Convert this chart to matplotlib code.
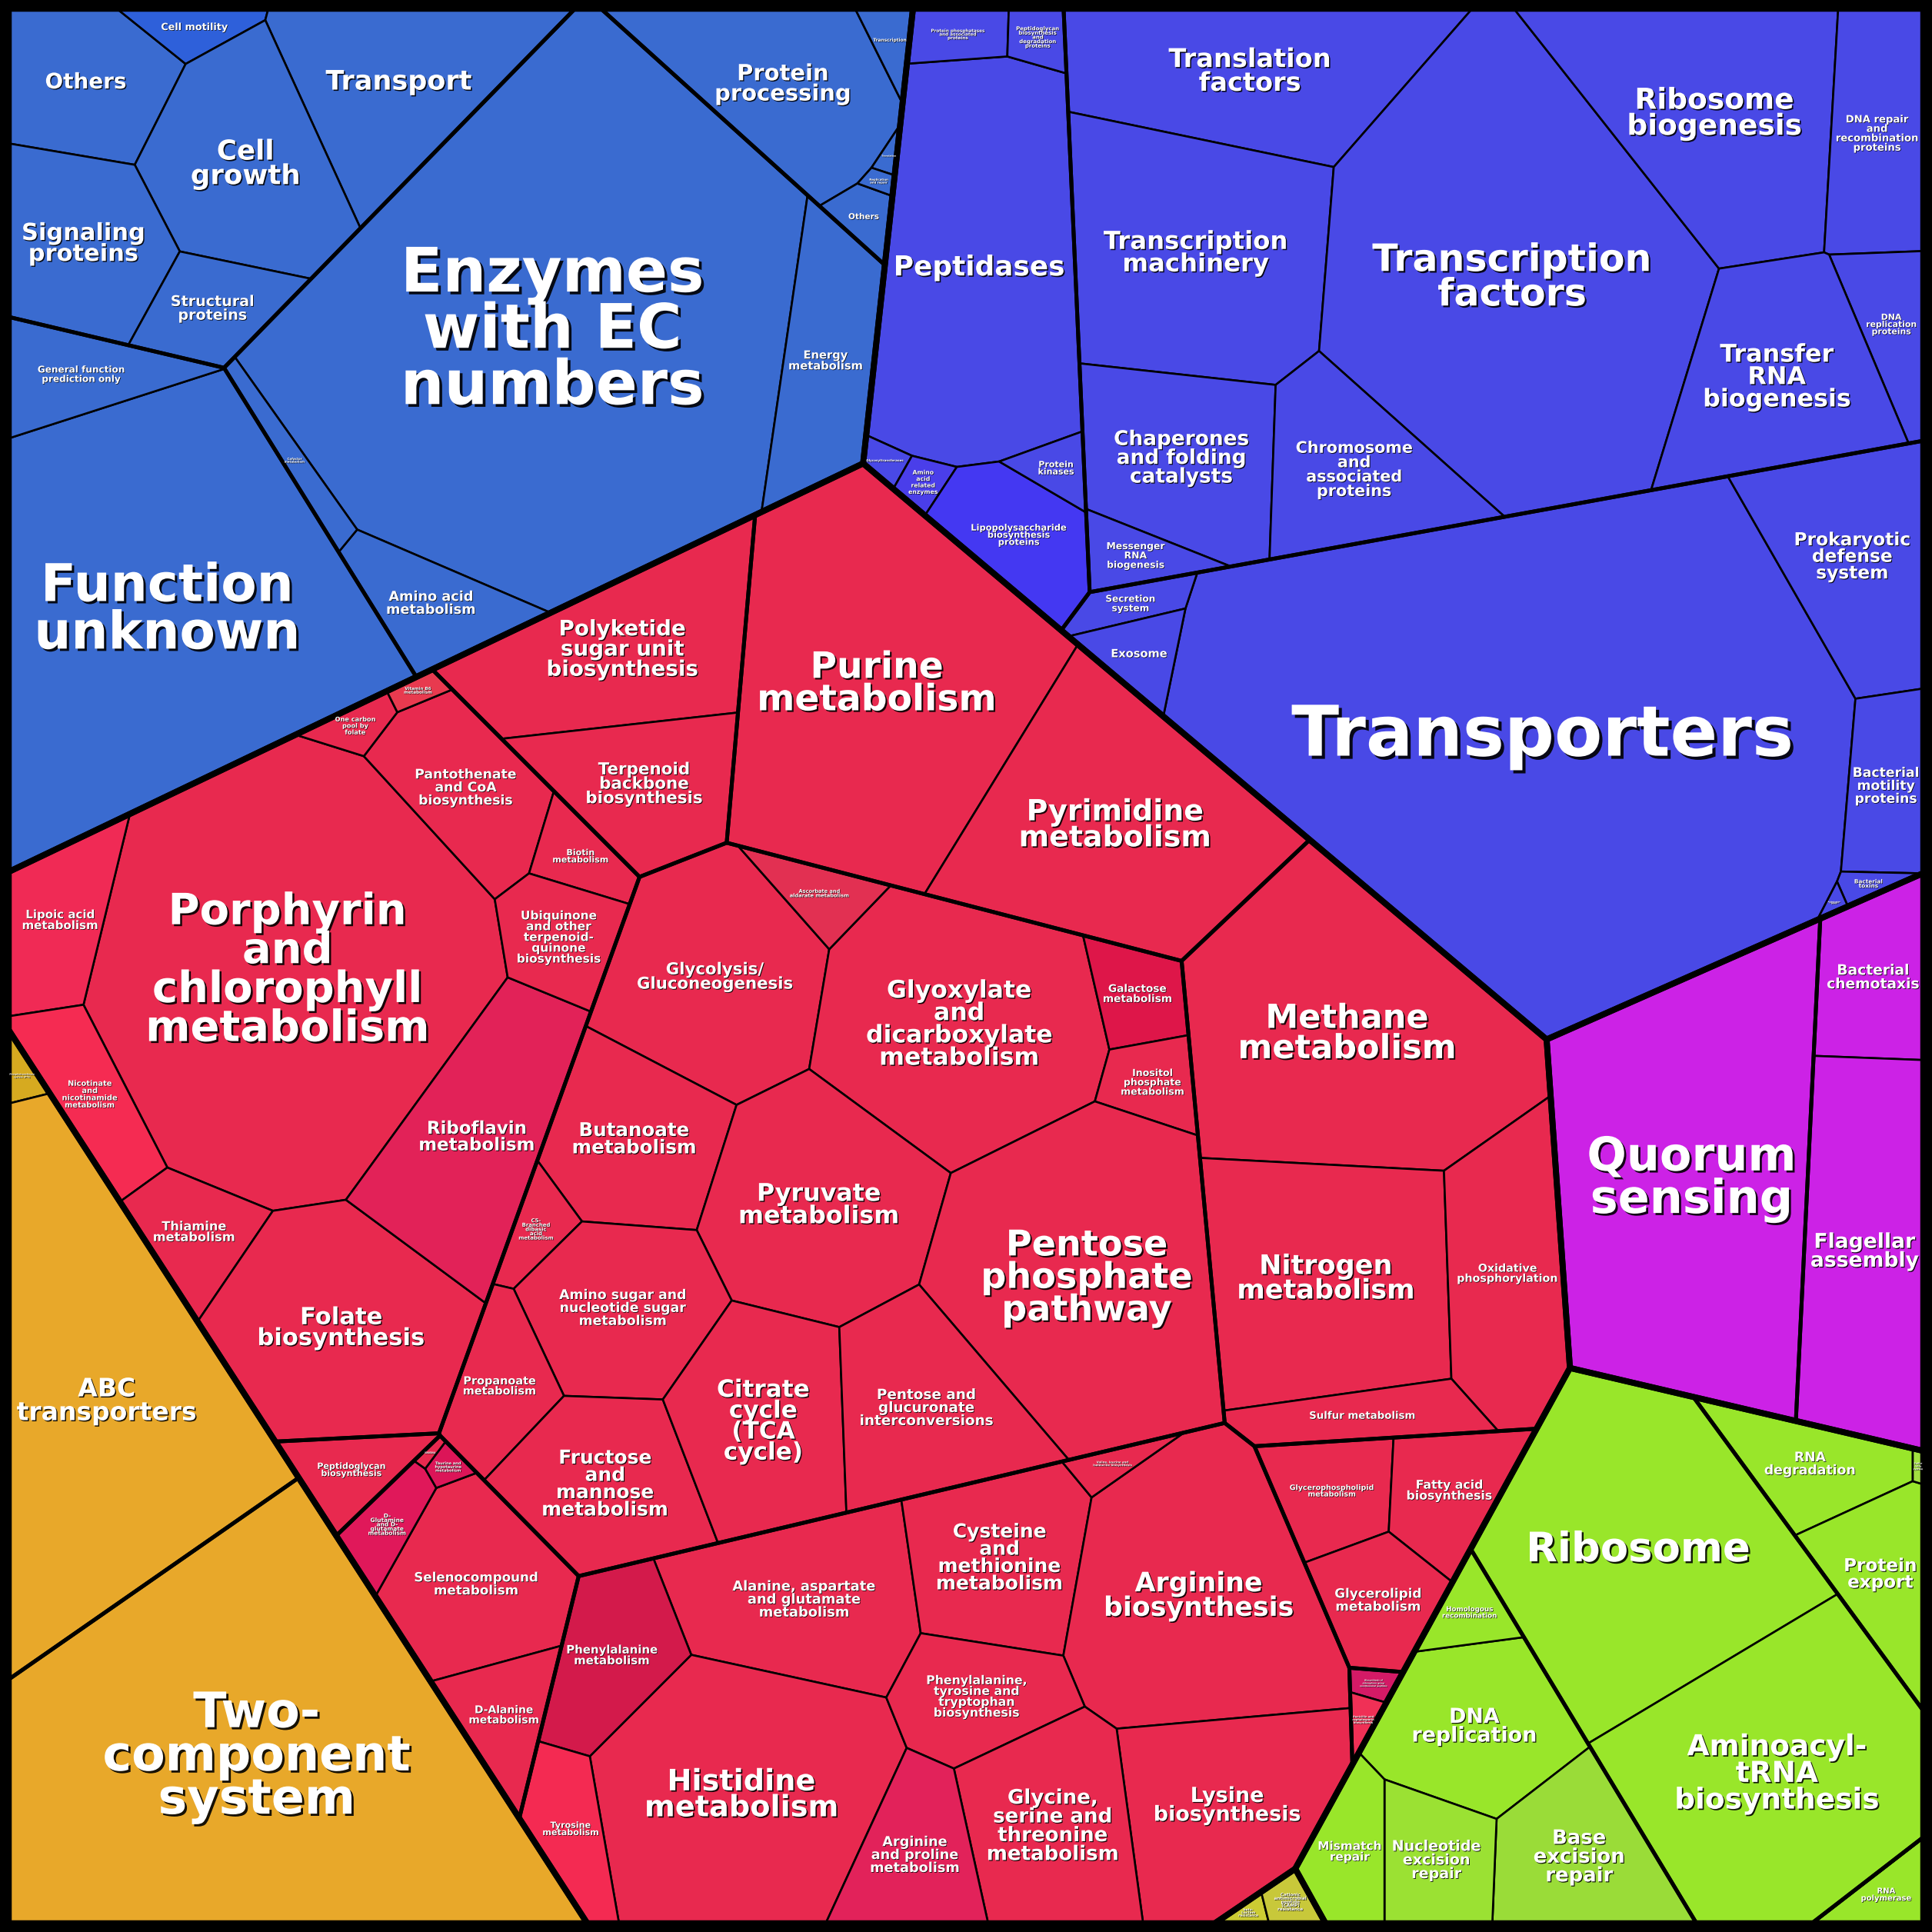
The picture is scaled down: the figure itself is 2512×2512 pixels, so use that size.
import numpy as np
import matplotlib
matplotlib.use("Agg")
import matplotlib.pyplot as plt
from matplotlib.patches import Polygon
import matplotlib.patheffects as pe

# =====================================================================
# DATA  (values = relative sizes)
# =====================================================================
GROUP_NAMES = ["Not Included in Pathway or Brite", "Brite Hierarchies", "Metabolism",
               "Cellular Processes", "Genetic Information Processing",
               "Environmental Information Processing", "Human Diseases"]

# --- Not Included in Pathway or Brite
A_SUB = (["Poorly characterized"] * 2 + ["Unclassified: signaling and cellular processes"] * 6 +
         ["Unclassified: metabolism"] * 4 + ["Unclassified: genetic information processing"] * 5)
A_LABEL = ["Function\nunknown", "General function\nprediction only",
           "Others", "Cell motility", "Transport", "Cell\ngrowth", "Signaling\nproteins",
           "Structural\nproteins",
           "Enzymes\nwith EC\nnumbers", "Energy\nmetabolism", "Amino acid\nmetabolism",
           "Cofactor\nmetabolism",
           "Protein\nprocessing", "Transcription", "Others", "Translation",
           "Replication\nand repair"]
A_VALUE = [84150, 8645, 14300, 3000, 22660, 23420, 17150, 7940,
           141665, 15338, 9060, 3000, 21550, 1800, 2040, 400, 400]

# --- Brite Hierarchies (protein families)
B_SUB = (["Protein families: metabolism"] * 7 +
         ["Protein families: genetic information processing"] * 10 +
         ["Protein families: signaling and cellular processes"] * 7)
B_LABEL = ["Peptidases", "Protein phosphatases\nand associated\nproteins",
           "Peptidoglycan\nbiosynthesis\nand\ndegradation\nproteins", "Glycosyltransferases",
           "Amino\nacid\nrelated\nenzymes", "Lipopolysaccharide\nbiosynthesis\nproteins",
           "Protein\nkinases",
           "Translation\nfactors", "Transcription\nmachinery", "Transcription\nfactors",
           "Ribosome\nbiogenesis", "DNA repair\nand\nrecombination\nproteins",
           "DNA\nreplication\nproteins", "Transfer\nRNA\nbiogenesis",
           "Chaperones\nand folding\ncatalysts", "Chromosome\nand\nassociated\nproteins",
           "Messenger\nRNA\nbiogenesis",
           "Transporters", "Secretion\nsystem", "Exosome", "Prokaryotic\ndefense\nsystem",
           "Bacterial\nmotility\nproteins", "Bacterial\ntoxins",
           "Antimicrobial\nresistance\ngenes"]
B_VALUE = [48345, 3300, 2100, 926, 1333, 10370, 2244,
           30112, 38570, 88637, 35937, 14760, 6832, 24937, 20993, 17795, 3890,
           170096, 2838, 3940, 21273, 8800, 1000, 300]

# --- Metabolism
C_SUB = (["Nucleotide metabolism"] * 2 + ["Terpenoids and polyketides"] * 2 +
         ["Cofactors and vitamins"] * 11 + ["Carbohydrate metabolism"] * 14 +
         ["Energy metabolism"] * 4 + ["Lipid metabolism"] * 3 +
         ["Other secondary metabolites"] * 2 + ["Amino acid metabolism"] * 11 +
         ["Other amino acids"] * 5 + ["Glycan biosynthesis"] * 1)
C_LABEL = ["Purine\nmetabolism", "Pyrimidine\nmetabolism",
           "Polyketide\nsugar unit\nbiosynthesis", "Terpenoid\nbackbone\nbiosynthesis",
           "Porphyrin\nand\nchlorophyll\nmetabolism", "Lipoic acid\nmetabolism",
           "Nicotinate\nand\nnicotinamide\nmetabolism", "Thiamine\nmetabolism",
           "Folate\nbiosynthesis", "Riboflavin\nmetabolism",
           "Pantothenate\nand CoA\nbiosynthesis", "Biotin\nmetabolism",
           "Ubiquinone\nand other\nterpenoid-\nquinone\nbiosynthesis",
           "One carbon\npool by\nfolate", "Vitamin B6\nmetabolism",
           "Glycolysis/\nGluconeogenesis", "Glyoxylate\nand\ndicarboxylate\nmetabolism",
           "Ascorbate and\naldarate metabolism", "Galactose\nmetabolism",
           "Inositol\nphosphate\nmetabolism", "Butanoate\nmetabolism",
           "C5-\nBranched\ndibasic\nacid\nmetabolism", "Pyruvate\nmetabolism",
           "Pentose\nphosphate\npathway", "Amino sugar and\nnucleotide sugar\nmetabolism",
           "Propanoate\nmetabolism", "Fructose\nand\nmannose\nmetabolism",
           "Citrate\ncycle\n(TCA\ncycle)", "Pentose and\nglucuronate\ninterconversions",
           "Methane\nmetabolism", "Nitrogen\nmetabolism", "Oxidative\nphosphorylation",
           "Sulfur metabolism",
           "Glycerophospholipid\nmetabolism", "Fatty acid\nbiosynthesis",
           "Glycerolipid\nmetabolism",
           "Biosynthesis of\nsiderophore group\nnonribosomal peptides",
           "Penicillin and\ncephalosporin\nbiosynthesis",
           "Alanine, aspartate\nand glutamate\nmetabolism",
           "Cysteine\nand\nmethionine\nmetabolism", "Arginine\nbiosynthesis",
           "Histidine\nmetabolism",
           "Phenylalanine,\ntyrosine and\ntryptophan\nbiosynthesis",
           "Lysine\nbiosynthesis", "Glycine,\nserine and\nthreonine\nmetabolism",
           "Arginine\nand proline\nmetabolism", "Phenylalanine\nmetabolism",
           "Tyrosine\nmetabolism", "Valine, leucine and\nisoleucine biosynthesis",
           "Selenocompound\nmetabolism", "D-Alanine\nmetabolism",
           "D-\nGlutamine\nand D-\nglutamate\nmetabolism",
           "Taurine and\nhypotaurine\nmetabolism", "Glutathione\nmetabolism",
           "Peptidoglycan\nbiosynthesis"]
C_VALUE = [64715, 41775,
           26000, 15500,
           91000, 10250, 8940, 7640, 31651, 24830, 13825, 4000, 8000, 2000, 900,
           27717, 39538, 4000, 5420, 4550, 17507, 3272, 29212, 51007, 18387, 8610,
           18112, 21587, 20325,
           53878, 35713, 21034, 7500,
           8000, 9000, 8500,
           850, 850,
           23340, 18198, 40767, 42517, 11572, 24525, 20180, 11508, 11940, 6955, 1715,
           17513, 6921, 3882, 800, 250,
           5327]

# --- Cellular Processes
D_SUB = ["Cellular community"] + ["Cell motility"] * 2
D_LABEL = ["Quorum\nsensing", "Bacterial\nchemotaxis", "Flagellar\nassembly"]
D_VALUE = [67989, 11266, 29491]

# --- Genetic Information Processing
E_SUB = (["Translation"] * 2 + ["Folding, sorting and degradation"] * 3 +
         ["Transcription"] + ["Replication and repair"] * 5)
E_LABEL = ["Ribosome", "Aminoacyl-\ntRNA\nbiosynthesis",
           "RNA\ndegradation", "Protein\nexport", "Sulfur\nrelay\nsystem",
           "RNA\npolymerase",
           "DNA\nreplication", "Homologous\nrecombination", "Base\nexcision\nrepair",
           "Nucleotide\nexcision\nrepair", "Mismatch\nrepair"]
E_VALUE = [51570, 47257, 9513, 9850, 230, 3150, 17725, 3427, 14925, 8977, 6784]

# --- Environmental Information Processing
F_SUB = ["Membrane transport"] * 2 + ["Signal transduction"]
F_LABEL = ["Phosphotransferase\nsystem (PTS)", "ABC\ntransporters", "Two-\ncomponent\nsystem"]
F_VALUE = [990, 60699, 107744]

# --- Human Diseases
G_SUB = ["Drug resistance"] * 2
G_LABEL = ["beta-\nLactam\nresistance", "Cationic\nantimicrobial\npeptide\n(CAMP)\nresistance"]
G_VALUE = [560, 1420]

# =====================================================================
# LAYOUT HINTS: generator sites (canvas units, 0..1568, y down)
# =====================================================================
A_SITE = [(120, 480), (62, 300), (95, 72), (140, 16), (329, 66), (200, 125), (75, 190),
          (175, 245), (452, 268), (672, 300), (360, 482), (263, 402), (640, 72),
          (724, 30), (705, 182), (724, 128), (727, 150)]
B_SITE = [(798, 205), (785, 25), (849, 27), (722, 373), (752, 390), (828, 440), (862, 382),
          (1010, 52), (975, 220), (1225, 240), (1405, 98), (1526, 105), (1532, 265),
          (1437, 305), (958, 375), (1100, 380), (925, 458),
          (1235, 600), (918, 495), (928, 537), (1505, 445), (1532, 625), (1530, 715),
          (1491, 732)]
C_SITE = [(705, 555), (905, 678),
          (515, 540), (527, 648),
          (225, 790), (40, 745), (60, 875), (143, 990), (268, 1075), (390, 910), (378, 650),
          (477, 680), (455, 752), (290, 583), (340, 558),
          (578, 805), (775, 838), (663, 730), (918, 805), (932, 882), (510, 935), (428, 995),
          (667, 985), (878, 1045), (500, 1068), (400, 1115), (495, 1205), (625, 1155),
          (755, 1150),
          (1095, 845), (1085, 1035), (1225, 1030), (1100, 1142),
          (1088, 1205), (1185, 1210), (1120, 1292),
          (1125, 1366), (1118, 1390),
          (640, 1295), (812, 1270), (980, 1300), (605, 1455), (795, 1378), (995, 1470),
          (848, 1490), (735, 1515), (500, 1350), (462, 1480), (905, 1193),
          (385, 1275), (415, 1385), (305, 1230), (357, 1200), (337, 1185),
          (275, 1183)]
D_SITE = [(1368, 960), (1518, 800), (1510, 1010)]
E_SITE = [(1340, 1258), (1455, 1450), (1482, 1190), (1528, 1290), (1558, 1190),
          (1538, 1535), (1205, 1405), (1193, 1315), (1290, 1515), (1168, 1510), (1095, 1510)]
F_SITE = [(22, 890), (87, 1151), (214, 1431)]
G_SITE = [(1020, 1553), (1052, 1545)]

# explicit sites for top-level / second-level cells whose borders are not centroidal
GROUP_SITE = {
    "Brite Hierarchies": (1202, 372),
    "Cellular Processes": (1455, 945),
}
SUB_SITE = {
    "Poorly characterized": (104, 454),
    "Unclassified: signaling and cellular processes": (182, 124),
    "Unclassified: metabolism": (358, 296),
    "Unclassified: genetic information processing": (572, 59),
    "Membrane transport": (86, 1141),
    "Signal transduction": (280, 1420),
    "Cell motility": (1512, 967),
    "Folding, sorting and degradation": (1508, 1267),
}

# =====================================================================
# STYLE
# =====================================================================
GROUP_COLOR = ["#3A6BD0", "#4949E6", "#E8294F", "#CC22E6", "#99E62A", "#E8A82A", "#C8C83A"]
LEAF_COLOR = {
    "Cell motility": "#2E60DA",
    "Lipopolysaccharide biosynthesis proteins": "#4438F2",
    "Amino acid related enzymes": "#4A3EEA",
    "Phenylalanine metabolism": "#D31A4B",
    "Tyrosine metabolism": "#F42A52",
    "Galactose metabolism": "#DE1649",
    "Riboflavin metabolism": "#E22258",
    "Lipoic acid metabolism": "#F02A55",
    "Nicotinate and nicotinamide metabolism": "#F52B52",
    "Taurine and hypotaurine metabolism": "#DC1558",
    "D- Glutamine and D- glutamate metabolism": "#E0185A",
    "Vitamin B6 metabolism": "#E83A4F",
    "Biosynthesis of siderophore group nonribosomal peptides": "#D41A66",
    "Penicillin and cephalosporin biosynthesis": "#F03056",
    "Arginine and proline metabolism": "#E2225A",
    "Ascorbate and aldarate metabolism": "#E23052",
    "Base excision repair": "#9ADC38",
    "Nucleotide excision repair": "#9BE133",
    "Sulfur relay system": "#A2E040",
    "Phosphotransferase system (PTS)": "#D6AA20",
    "beta- Lactam resistance": "#CCCC33",
}

GROUP_DATA = [(A_SUB, A_LABEL, A_VALUE, A_SITE), (B_SUB, B_LABEL, B_VALUE, B_SITE),
              (C_SUB, C_LABEL, C_VALUE, C_SITE), (D_SUB, D_LABEL, D_VALUE, D_SITE),
              (E_SUB, E_LABEL, E_VALUE, E_SITE), (F_SUB, F_LABEL, F_VALUE, F_SITE),
              (G_SUB, G_LABEL, G_VALUE, G_SITE)]

# =====================================================================
# Power-diagram (weighted Voronoi) treemap computation
# =====================================================================
def poly_area(P):
    x, y = P[:, 0], P[:, 1]
    return 0.5 * (np.dot(x, np.roll(y, -1)) - np.dot(np.roll(x, -1), y))


def poly_centroid(P):
    x, y = P[:, 0], P[:, 1]
    x1, y1 = np.roll(x, -1), np.roll(y, -1)
    c = x * y1 - x1 * y
    A = c.sum() / 2
    if abs(A) < 1e-9:
        return P.mean(0)
    return np.array([((x + x1) * c).sum() / (6 * A), ((y + y1) * c).sum() / (6 * A)])


def inside_convex(P, pt, eps=1e-9):
    Q = np.roll(P, -1, axis=0)
    cr = (Q[:, 0] - P[:, 0]) * (pt[1] - P[:, 1]) - (Q[:, 1] - P[:, 1]) * (pt[0] - P[:, 0])
    return (cr >= -eps).all() or (cr <= eps).all()


def clip(P, L, a, b, lab):
    d = P @ a - b
    ins = d <= 1e-9
    if ins.all():
        return P, L
    if not ins.any():
        return None, None
    n = len(P)
    outP, outL = [], []
    for k in range(n):
        k2 = k + 1 if k + 1 < n else 0
        if ins[k]:
            outP.append(P[k]); outL.append(L[k])
            if not ins[k2]:
                t = d[k] / (d[k] - d[k2])
                outP.append(P[k] + t * (P[k2] - P[k])); outL.append(lab)
        elif ins[k2]:
            t = d[k] / (d[k] - d[k2])
            outP.append(P[k] + t * (P[k2] - P[k])); outL.append(L[k])
    if len(outP) < 3:
        return None, None
    return np.array(outP), outL


def power_cells(region, S, W, order):
    n = len(S)
    sq = (S ** 2).sum(1)
    cells = []
    for i in range(n):
        P, L = region.copy(), [-1] * len(region)
        for j in order[i]:
            a = 2 * (S[j] - S[i])
            b = sq[j] - sq[i] - W[j] + W[i]
            P, L = clip(P, L, a, b, j)
            if P is None:
                break
        cells.append((P, L))
    return cells


def clamp_sites(region, pts):
    c = poly_centroid(region)
    out = []
    for p in pts:
        q = np.array(p, float)
        k = 0
        while not inside_convex(region, q) and k < 80:
            q = c + 0.9 * (q - c)
            k += 1
        out.append(q)
    out = np.array(out)
    for i in range(len(out)):
        for j in range(i):
            if np.hypot(*(out[i] - out[j])) < 0.5:
                out[i] += np.array([0.7, 0.4])
    return out


def solve(region, sites, targets, iters=900, tol=0.002):
    n = len(sites)
    if n == 1:
        return [region]
    S = clamp_sites(region, sites)
    T = np.asarray(targets, float)
    T = T / T.sum() * abs(poly_area(region))
    dist2 = ((S[:, None, :] - S[None, :, :]) ** 2).sum(-1)
    dist = np.sqrt(dist2)
    order = [[j for j in np.argsort(dist[i]) if j != i] for i in range(n)]
    W = np.zeros(n)
    best = None
    for it in range(iters):
        cells = power_cells(region, S, W, order)
        A = np.zeros(n)
        D = np.zeros(n)
        for i, (P, L) in enumerate(cells):
            if P is None:
                continue
            A[i] = abs(poly_area(P))
            Q = np.roll(P, -1, axis=0)
            seg = np.sqrt(((Q - P) ** 2).sum(1))
            for k, lab in enumerate(L):
                if lab >= 0:
                    D[i] += seg[k] / (2 * dist[i, lab])
        score = (np.abs(T - A) / T).max()
        if best is None or score < best[0]:
            best = (score, [c[0] for c in cells])
        if score < tol:
            break
        newW = W.copy()
        for i in range(n):
            if A[i] <= 1e-9 or D[i] <= 1e-12:
                newW[i] = max(W[j] - dist2[i, j] for j in range(n) if j != i) + 1.0
            else:
                newW[i] = W[i] + 0.55 * (T[i] - A[i]) / D[i]
        W = newW
    return best[1]


def weighted_site(values, sites):
    v = np.asarray(values, float)
    s = np.asarray(sites, float)
    return (s * v[:, None]).sum(0) / v.sum()


# --------------------------------------------------------------------
SQUARE = np.array([[7, 7], [1561, 7], [1561, 1561], [7, 1561]], float)

group_sites = [np.array(GROUP_SITE[nm], float) if nm in GROUP_SITE else weighted_site(g[2], g[3])
               for nm, g in zip(GROUP_NAMES, GROUP_DATA)]
group_totals = [sum(g[2]) for g in GROUP_DATA]
group_polys = solve(SQUARE, group_sites, group_totals)

leaves = []      # (poly, label, color)
sub_polys = []
for gi, (subs, labels, values, sites) in enumerate(GROUP_DATA):
    gpoly = group_polys[gi]
    if gpoly is None:
        continue
    sub_names = []
    for s in subs:
        if s not in sub_names:
            sub_names.append(s)
    sidx = [[k for k, s in enumerate(subs) if s == nm] for nm in sub_names]
    s_sites = [np.array(SUB_SITE[nm], float) if nm in SUB_SITE else
               weighted_site([values[k] for k in ix], [sites[k] for k in ix])
               for nm, ix in zip(sub_names, sidx)]
    s_tot = [sum(values[k] for k in ix) for ix in sidx]
    spolys = solve(gpoly, s_sites, s_tot)
    for ix, sp in zip(sidx, spolys):
        if sp is None:
            continue
        sub_polys.append(sp)
        lp = solve(sp, [sites[k] for k in ix], [values[k] for k in ix])
        for k, p in zip(ix, lp):
            if p is None:
                continue
            key = labels[k].replace("\n", " ")
            col = LEAF_COLOR.get(key, GROUP_COLOR[gi])
            leaves.append((p, labels[k], col))

# =====================================================================
# DRAW
# =====================================================================
W_PX = 2512
fig = plt.figure(figsize=(W_PX / 100, W_PX / 100), dpi=100, facecolor="black")
ax = fig.add_axes([0, 0, 1, 1])
ax.set_xlim(0, 1568)
ax.set_ylim(1568, 0)
ax.set_axis_off()
ax.set_facecolor("black")

for p, lab, col in leaves:
    ax.add_patch(Polygon(p, closed=True, fc=col, ec="black", lw=1.9, joinstyle="round", zorder=1))
for sp in sub_polys:
    ax.add_patch(Polygon(sp, closed=True, fill=False, ec="black", lw=3.6, joinstyle="round", zorder=2))
for gp in group_polys:
    if gp is not None:
        ax.add_patch(Polygon(gp, closed=True, fill=False, ec="black", lw=5.6, joinstyle="round", zorder=3))
ax.add_patch(Polygon(SQUARE, closed=True, fill=False, ec="black", lw=6, zorder=3))

renderer = fig.canvas.get_renderer()
scale_px = 1568.0 / W_PX           # canvas units per pixel
em10_px = 10 / 72 * 100            # em of a 10pt font in pixels
em10 = em10_px * scale_px          # ... in canvas units


def fit_scale(P, c, w, h):
    lo, hi = 0.0, 60.0
    signs = np.array([[-1, -1], [1, -1], [1, 1], [-1, 1]], float)
    for _ in range(36):
        m = (lo + hi) / 2
        corners = c + signs * np.array([m * w / 2, m * h / 2])
        if all(inside_convex(P, q) for q in corners):
            lo = m
        else:
            hi = m
    return lo


for p, lab, col in leaves:
    c = poly_centroid(p)
    t = ax.text(c[0], c[1], lab, fontsize=10, fontweight="bold", family="DejaVu Sans",
                color="white", ha="center", va="center", multialignment="center",
                linespacing=0.92, zorder=6)
    bb = t.get_window_extent(renderer)
    w = bb.width * scale_px
    h = bb.height * scale_px * 0.92
    widest_em = bb.width / em10_px
    nlines = lab.count("\n") + 1
    rootA = np.sqrt(abs(poly_area(p)))
    kw = 0.99 if nlines == 1 else 0.76
    kc = 0.145 if nlines <= 2 else 0.132
    em = min(kc * rootA, kw * rootA / widest_em)
    s = min(fit_scale(p, c, w, h) * 0.92, em / em10)
    fs = max(10 * s, 1.2)
    t.set_fontsize(fs)
    off = max(0.5, fs * 0.045)
    t.set_path_effects([pe.SimplePatchShadow(offset=(off, -off), shadow_rgbFace="black", alpha=0.9),
                        pe.Normal()])

fig.savefig("out.png", dpi=100, facecolor="black")
